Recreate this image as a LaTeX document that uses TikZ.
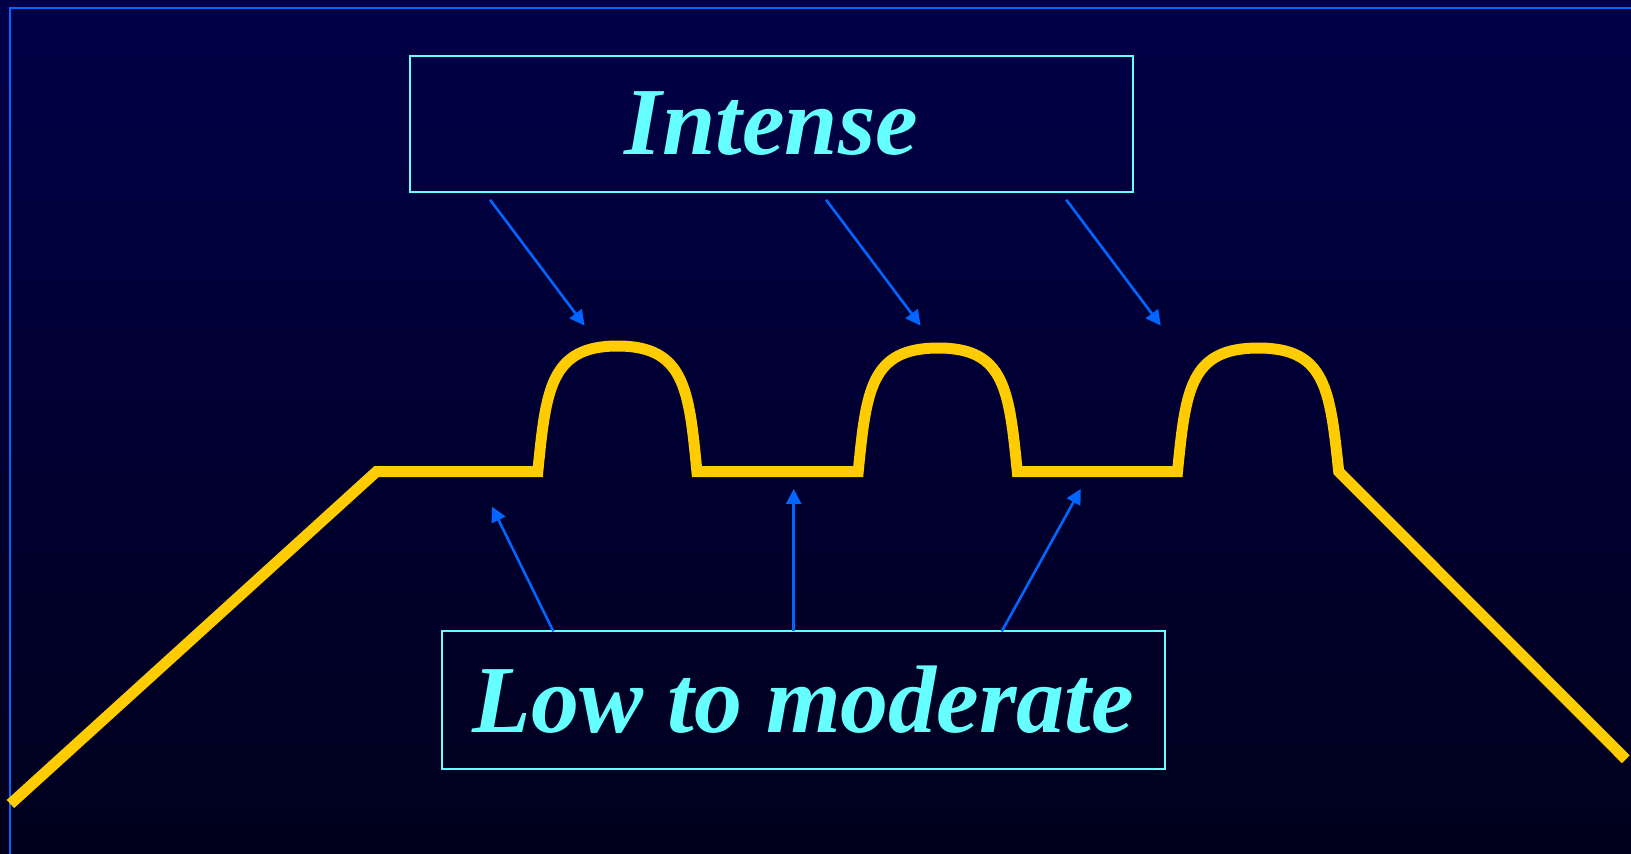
\documentclass[tikz,border=0pt]{standalone}
\usepackage{fontspec}
\setmainfont{Liberation Serif}
\usetikzlibrary{arrows.meta}
\definecolor{bgtop}{HTML}{000048}
\definecolor{bgbot}{HTML}{00001C}
\definecolor{framecol}{HTML}{0066FF}
\definecolor{cyantext}{HTML}{66FFFF}
\definecolor{curvecol}{HTML}{FFCC00}
\definecolor{arrowcol}{HTML}{0066FF}
\tikzset{
  labelbox/.style={draw=cyantext, line width=2pt, text=cyantext, minimum width=723pt,
    inner sep=0pt, font=\fontsize{96}{110}\selectfont\bfseries\itshape},
  pointer/.style={draw=arrowcol, line width=2.6pt, -{Triangle[length=15pt,width=15pt]}},
  curve/.style={draw=curvecol, line width=11pt, line join=miter},
}
\begin{document}
\begin{tikzpicture}[x=1pt,y=-1pt]
\shade[top color=bgtop, bottom color=bgbot] (0,0) rectangle (1631,854);
\useasboundingbox (0,0) rectangle (1631,854);
\draw[framecol, line width=2.2pt] (10,860) -- (10,8) -- (1640,8);

\node[labelbox, minimum height=136pt] (intense) at (771.5,124) {Intense};
\node[labelbox, minimum height=138pt] (low) at (803.5,700) {Low to moderate};

% yellow profile
\draw[curve]
  (10.4,804) -- (376.6,471.5) -- (537.8,471.5)
  .. controls (546,390) and (550,346) .. (617.5,346)
  .. controls (685,346) and (689,390) .. (696.9,471.5)
  -- (858.2,471.5)
  .. controls (866.4,390) and (870.4,348) .. (938.3,348)
  .. controls (1005,348) and (1009,390) .. (1017.3,471.5)
  -- (1177.5,471.5)
  .. controls (1185.7,390) and (1189.7,348) .. (1258.3,348)
  .. controls (1326,348) and (1330,390) .. (1338.7,471.5)
  -- (1625.8,759.3);

% arrow end points
\coordinate (i1s) at (490,199.7);   \coordinate (i1e) at (584.6,325.6);
\coordinate (i2s) at (826,199.7);   \coordinate (i2e) at (920.6,325.6);
\coordinate (i3s) at (1066.2,199.7);\coordinate (i3e) at (1160.8,325.6);
\coordinate (l1s) at (553.4,631.4); \coordinate (l1e) at (492,506.6);
\coordinate (l2s) at (793.7,631.4); \coordinate (l2e) at (793.7,488.9);
\coordinate (l3s) at (1001.7,631.4);\coordinate (l3e) at (1080.8,488.9);

\draw[pointer] (i1s) -- (i1e);
\draw[pointer] (i2s) -- (i2e);
\draw[pointer] (i3s) -- (i3e);
\draw[pointer] (l1s) -- (l1e);
\draw[pointer] (l2s) -- (l2e);
\draw[pointer] (l3s) -- (l3e);
\end{tikzpicture}
\end{document}
